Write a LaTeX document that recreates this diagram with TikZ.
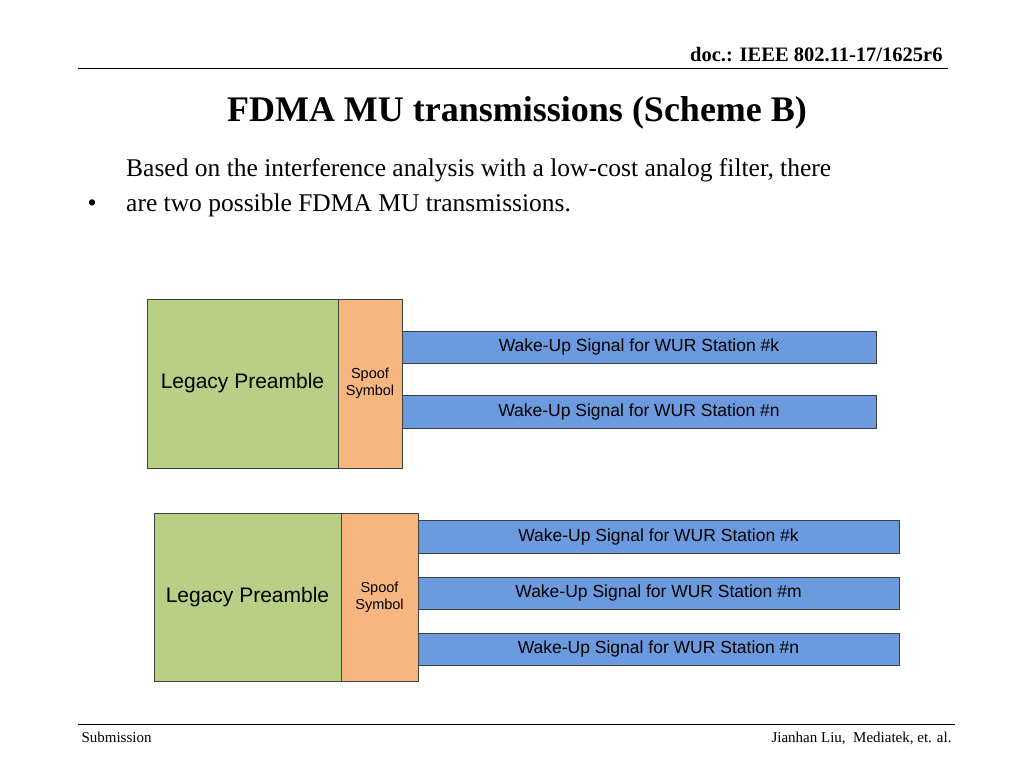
\documentclass[tikz,border=0pt]{standalone}
\usepackage{fontspec}
\setmainfont{Liberation Serif}
\newfontfamily\arial{Liberation Sans}
\definecolor{lg}{RGB}{183,208,134}
\definecolor{so}{RGB}{247,181,128}
\definecolor{wb}{RGB}{107,154,222}
\begin{document}
\begin{tikzpicture}[x=1pt,y=-1pt,
 bx/.style={draw=black!75,line width=0.6pt,inner sep=0pt,font=\arial},
 lp/.style={bx,fill=lg,font=\arial\fontsize{21}{24}\selectfont},
 sp/.style={bx,fill=so,font=\arial\fontsize{14.5}{17}\selectfont,align=center},
 wu/.style={bx,fill=wb,font=\arial\fontsize{17.5}{20}\selectfont}]
\useasboundingbox (0,0) rectangle (1024,768);
\node[anchor=base east,font=\bfseries\fontsize{20.5}{24}\selectfont] (hd) at (946,62) {doc.: IEEE 802.11-17/1625r6};
\draw[line width=1pt] (78,68) -- (948,68);
\node[font=\bfseries\fontsize{36}{40}\selectfont] (ti) at (517,113) {FDMA MU transmissions (Scheme B)};
\node[anchor=base west,font=\fontsize{26}{35}\selectfont] (bu) at (84,211) {•};
\node[anchor=base west,align=left,inner sep=0pt,font=\fontsize{25.5}{35}\selectfont] (tx) at (126,211) {Based on the interference analysis with a low-cost analog filter, there\\are two possible FDMA MU transmissions.};
% diagram 1
\node[lp,minimum width=191pt,minimum height=169pt] (a1) at (242.5,383.5) {Legacy Preamble};
\node[sp,minimum width=64pt,minimum height=169pt] (s1) at (370,383.5) {Spoof\\Symbol};
\node[wu,minimum width=474pt,minimum height=32pt] (k1) at (639,347) {Wake-Up Signal for WUR Station \#k};
\node[wu,minimum width=474pt,minimum height=33pt] (n1) at (639,411.5) {Wake-Up Signal for WUR Station \#n};
% diagram 2
\node[lp,minimum width=187pt,minimum height=168pt] (a2) at (247.5,597) {Legacy Preamble};
\node[sp,minimum width=77pt,minimum height=168pt] (s2) at (379.5,597) {Spoof\\Symbol};
\node[wu,minimum width=481pt,minimum height=33pt] (k2) at (658.5,536.5) {Wake-Up Signal for WUR Station \#k};
\node[wu,minimum width=481pt,minimum height=32pt] (m2) at (658.5,593) {Wake-Up Signal for WUR Station \#m};
\node[wu,minimum width=481pt,minimum height=32pt] (n2) at (658.5,649) {Wake-Up Signal for WUR Station \#n};
% footer
\draw[line width=1pt] (78,724) -- (955,724);
\node[anchor=base west,font=\fontsize{15}{17}\selectfont] (f1) at (78,742) {Submission};
\node[anchor=base east,font=\fontsize{15}{17}\selectfont] (f2) at (955,742) {Jianhan Liu,\ \ Mediatek, et. al.};
\end{tikzpicture}
\end{document}
